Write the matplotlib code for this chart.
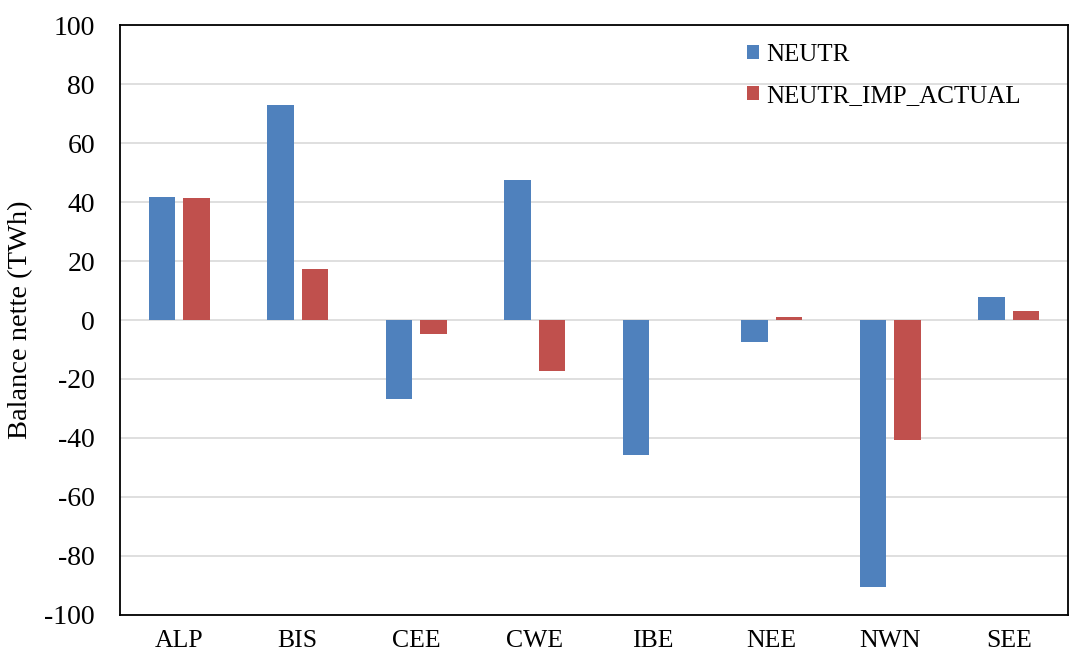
import matplotlib
matplotlib.use("Agg")
import matplotlib.pyplot as plt
import numpy as np

categories = ["ALP", "BIS", "CEE", "CWE", "IBE", "NEE", "NWN", "SEE"]
neutr = [41.6, 72.8, -26.9, 47.4, -45.7, -7.6, -90.6, 7.8]
neutr_imp_actual = [41.2, 17.4, -4.9, -17.4, 0.0, 0.9, -40.7, 3.2]
series_names = ["NEUTR", "NEUTR_IMP_ACTUAL"]
yticks = list(range(-100, 101, 20))

plt.rcParams['font.family'] = ['Liberation Serif', 'DejaVu Serif']

fig = plt.figure(figsize=(10.73, 6.6), dpi=100)
ax = fig.add_axes([0.1118, 0.0682, 0.8835, 0.8939])

x = np.arange(len(categories))
w = 0.225
off = 0.145
ax.bar(x - off, neutr, width=w, color="#4F81BD", linewidth=0,
       label=series_names[0], zorder=3)
ax.bar(x + off, neutr_imp_actual, width=w, color="#C0504D", linewidth=0,
       label=series_names[1], zorder=3)

ax.set_xlim(-0.5, len(categories) - 0.5)
ax.set_ylim(-100, 100)
ax.set_yticks(yticks)
ax.set_yticklabels([str(v) for v in yticks])
ax.set_xticks(x)
ax.set_xticklabels(categories)
ax.tick_params(axis='y', length=0, pad=18, labelsize=20)
ax.tick_params(axis='x', length=0, pad=10.5, labelsize=18.5)
ax.yaxis.grid(True, color="#D9D9D9", linewidth=1.2, zorder=0)
ax.set_axisbelow(True)
for s in ax.spines.values():
    s.set_color("black")
    s.set_linewidth(1.3)
ax.set_ylabel("Balance nette (TWh)", fontsize=20.5, labelpad=8)

leg = ax.legend(loc="upper left", bbox_to_anchor=(0.6505, 0.985), frameon=False,
                fontsize=18, handlelength=0.5, handleheight=0.5, handletextpad=0.3,
                labelspacing=0.75, borderaxespad=0)

fig.savefig("out.png", dpi=100)
